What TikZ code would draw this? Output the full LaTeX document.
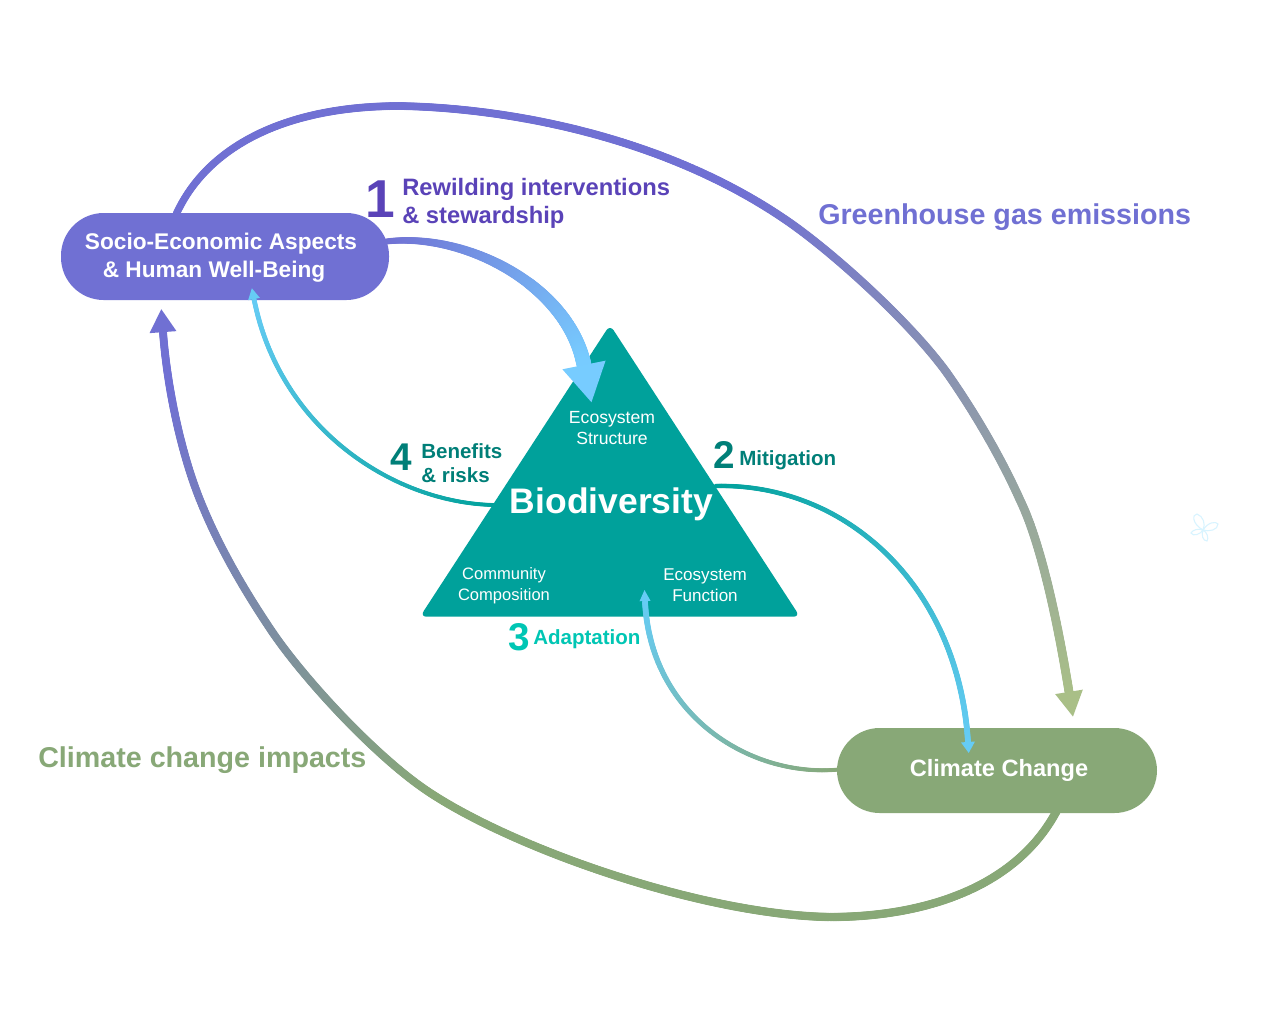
\documentclass[tikz,border=0pt]{standalone}
\usepackage{fontspec}
\setmainfont{Liberation Sans}
\usetikzlibrary{decorations.markings,shapes.geometric,calc}
\definecolor{purp}{HTML}{7070D3}
\definecolor{deep}{HTML}{5A43B8}
\definecolor{sage}{HTML}{88A877}
\definecolor{olive}{HTML}{A9BF87}
\definecolor{teal1}{HTML}{00A19B}
\definecolor{teal2}{HTML}{007F78}
\definecolor{aqua}{HTML}{00C6B4}
\definecolor{sky}{HTML}{77CCFF}
\definecolor{sky2}{HTML}{66CCF5}
\definecolor{petal}{HTML}{D8F4FF}
\newcommand{\fs}[1]{\fontsize{#1}{#1}\selectfont}
\tikzset{
  x=0.75pt,y=-0.75pt,
  gradline/.style n args={6}{postaction={decorate,decoration={markings,
    mark=between positions 0 and 1 step 0.8pt with {
      \pgfmathsetmacro\tpos{\the\dimexpr 1pt*\dimexpr\pgfkeysvalueof{/pgf/decoration/mark info/distance from start}\relax/\dimexpr\pgfdecoratedpathlength\relax\relax}
      \pgfmathsetmacro\pct{100*min(1,max(0,(\tpos-#5)/(#6-#5)))}
      \pgfmathsetmacro\rad{0.375*(#3+(#4-#3)*\tpos)}
      \fill[color=#2!\pct!#1] (0,0) circle[radius=\rad pt];
    }}}},
  headtip/.style n args={3}{postaction={decorate,decoration={markings,
    mark=at position 0.9999 with {
      \fill[color=#1] (0,#3)--(#2,0)--(0,-#3)--cycle;
    }}}},
  pill/.style={draw=none,fill=#1,rounded corners=32pt,inner sep=0pt,text=white,align=center,font=\bfseries\fs{17}},
  tag/.style={inner sep=0pt,font=\bfseries\fs{15.4},align=left,anchor=west},
  big/.style={inner sep=0pt,font=\bfseries\fs{21.5},anchor=west},
  num/.style={inner sep=0pt,font=\bfseries\fs{29}},
  inner/.style={inner sep=0pt,text=white,align=center,font=\fs{13.2}},
  petalline/.style={draw=petal,line width=0.8pt},
}
\begin{document}
\begin{tikzpicture}
\useasboundingbox (0,0) rectangle (1282,1026);
\fill[white] (0,0) rectangle (1282,1026);
% triangle
\node[isosceles triangle,isosceles triangle apex angle=65.8,isosceles triangle stretches,shape border rotate=90,
  minimum width=285pt,minimum height=219pt,inner sep=0pt,fill=teal1,rounded corners=5pt,anchor=lower side] (bio) at (610,617) {};
% pills
\node[pill=purp,minimum width=246pt,minimum height=65.25pt] (soc) at (225,256.5)
  {\raisebox{-1.5pt}[\height][\depth]{Socio-Economic Aspects}\hspace*{6pt}\\[4.5pt]\raisebox{-1pt}[\height][\depth]{\& Human Well-Being}\hspace*{16.5pt}};
\node[pill=sage,minimum width=240pt,minimum height=63.75pt,font=\bfseries\fs{17.7}] (clim) at (997,770.5)
  {\hspace*{3pt}\raisebox{2pt}{Climate Change}};
% anchors
\coordinate (ghgS) at ($(soc.north)+(-49,2)$);
\coordinate (ghgE) at (1069,692);
\coordinate (impS) at ($(clim.south)+(60,-3)$);
\coordinate (impE) at (163,332);
\coordinate (rewS) at ($(soc.east)+(-3,-15)$);
\coordinate (rewE) at (584,365);
\coordinate (benS) at (494,505);
\coordinate (benE) at (254,299);
\coordinate (mitS) at (716,486);
\coordinate (mitE) at (968,742);
\coordinate (adaS) at ($(clim.west)+(2,-1)$);
\coordinate (adaE) at (645,601);
% connectors
\path[gradline={purp}{olive}{7.5}{9}{0.5}{1},headtip={olive}{25}{14}]
  (ghgS) .. controls (205,150) and (280,106) .. (400,106)
  .. controls (510,108) and (663,137) .. (783,218)
  .. controls (831,250) and (911,323) .. (947,373)
  .. controls (971,407) and (1000,455) .. (1020,500)
  .. controls (1042,545) and (1059,630) .. (ghgE);
\path[gradline={sage}{purp}{8.5}{8}{0.55}{0.95},headtip={purp}{23}{13.5}]
  (impS) .. controls (1015,890) and (920,917) .. (830,917)
  .. controls (700,915) and (506,846) .. (423,788)
  .. controls (373,753) and (306,681) .. (273,633)
  .. controls (248,596) and (220,550) .. (200,500)
  .. controls (180,450) and (167,385) .. (impE);
\path[gradline={purp}{sky}{6}{15}{0}{1},headtip={sky}{38}{22}]
  (rewS) .. controls (465,232) and (568,285) .. (rewE);
\path[gradline={teal1}{sky2}{4}{5}{0}{1},headtip={sky2}{11}{6}]
  (benS) .. controls (395,503) and (280,430) .. (benE);
\path[gradline={teal1}{sky2}{4.5}{6}{0}{1},headtip={sky2}{11}{7}]
  (mitS) .. controls (845,483) and (958,585) .. (mitE);
\path[gradline={sage}{sky2}{4}{6}{0}{1},headtip={sky2}{11}{5.5}]
  (adaS) .. controls (750,778) and (650,715) .. (adaE);
% triangle labels
\node[inner] (es) at (612,428) {Ecosystem\\[3pt]Structure};
\node[inner,font=\fs{12.4}] (cc) at (504,586) {Community\\[3.5pt]Composition};
\node[inner,font=\fs{12.8}] (ef) at (705,585) {Ecosystem\\[3pt]Function};
\node[inner sep=0pt,text=white,font=\bfseries\fs{26.6}] (bd) at (611.5,504) {Biodiversity};
% numbered labels
\node[num,text=deep,font=\bfseries\fs{40}] (n1) at (380.5,199) {1};
\node[tag,text=deep,font=\bfseries\fs{17.8}] (l1) at (402,203.5) {Rewilding interventions\\[3.5pt]\& stewardship};
\node[num,text=teal2] (n2) at (724,455) {2};
\node[tag,text=teal2] (l2) at (739,460) {Mitigation};
\node[num,text=aqua] (n3) at (519,637) {3};
\node[tag,text=aqua] (l3) at (533,639) {Adaptation};
\node[num,text=teal2] (n4) at (401,457) {4};
\node[tag,text=teal2] (l4) at (421,463) {Benefits\\[3pt]\& risks};
\node[big,text=purp] (ghg) at (818,217) {Greenhouse gas emissions};
\node[big,text=sage] (imp) at (38,760) {Climate change impacts};
% faint flower
\coordinate (fc) at (1203,530);
\draw[petalline] (fc) .. controls (1192,524) and (1192,514) .. (1197,514) .. controls (1203,516) and (1206,524) .. (fc);
\draw[petalline] (fc) .. controls (1208,522) and (1216,521) .. (1218,524) .. controls (1218,530) and (1209,532) .. (fc);
\draw[petalline] (fc) .. controls (1199,528) and (1192,530) .. (1191,533) .. controls (1193,537) and (1201,534) .. (fc);
\draw[petalline] (fc) .. controls (1201,535) and (1203,541) .. (1207,541) .. controls (1209,538) and (1207,532) .. (fc);
\end{tikzpicture}
\end{document}
